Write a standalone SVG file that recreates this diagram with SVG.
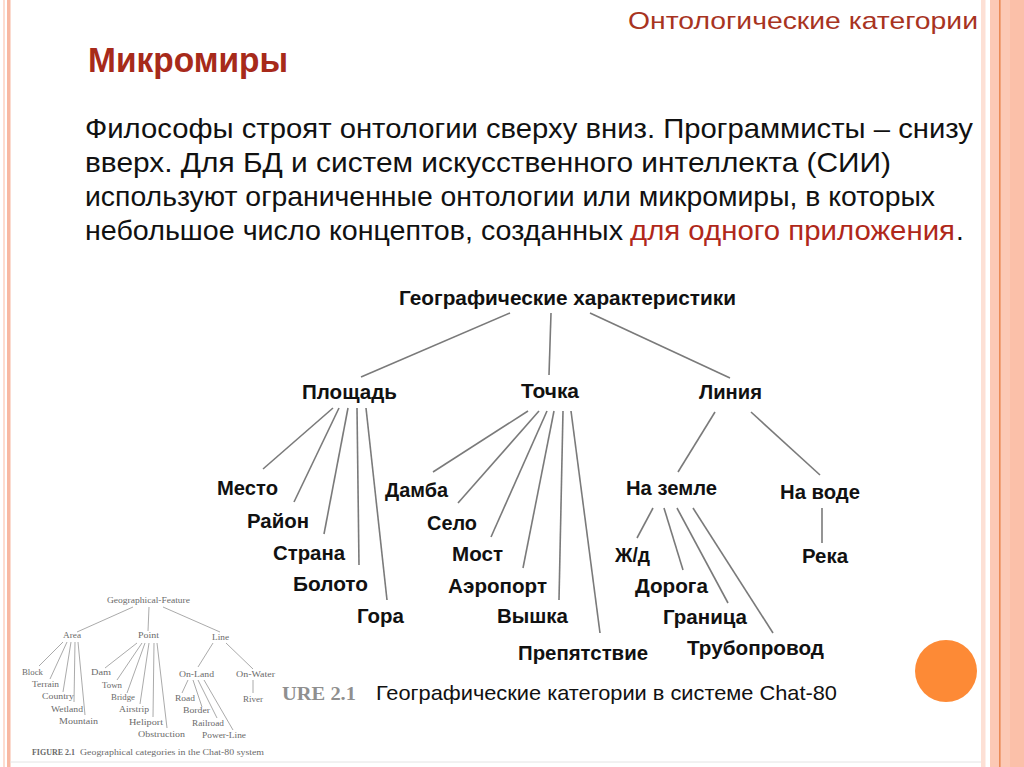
<svg xmlns="http://www.w3.org/2000/svg" width="1024" height="767" viewBox="0 0 1024 767">
<style>
.lbl{font-family:"Liberation Sans",Arial,sans-serif;font-size:20px;font-weight:bold;fill:#111}
.body{font-family:"Liberation Sans",Arial,sans-serif;font-size:28px;fill:#111}
.red{fill:#b0281a}
.sm{font-family:"Liberation Serif","Times New Roman",serif;font-size:9px;fill:#6a6a6a}
.conn line{stroke:#7a7a7a;stroke-width:1.6;fill:none}
.sconn line{stroke:#a0a0a0;stroke-width:0.9;fill:none}
</style>
<rect width="1024" height="767" fill="#ffffff"/>
<g id="border">
<rect x="3" y="0" width="2" height="767" fill="#fddcd0"/>
<rect x="7" y="0" width="3.5" height="767" fill="#f8b8a2"/>
<rect x="981" y="0" width="4.5" height="767" fill="#fde0d5"/>
<rect x="990" y="0" width="34" height="767" fill="#fcc9b5"/>
<rect x="1010" y="0" width="14" height="767" fill="#fbc0a9"/>
<rect x="999" y="0" width="1.6" height="767" fill="#ea8a55"/>
<line x1="10" y1="762" x2="981" y2="762" stroke="#e4e4e4" stroke-width="1"/>
</g>
<text x="978" y="29" text-anchor="end" font-family="Liberation Sans,Arial,sans-serif" font-size="24" fill="#a8341f" textLength="350" lengthAdjust="spacingAndGlyphs">Онтологические категории</text>
<text x="88" y="72" font-family="Liberation Sans,Arial,sans-serif" font-size="35" font-weight="bold" fill="#a72a1a" textLength="200" lengthAdjust="spacingAndGlyphs">Микромиры</text>
<g id="body-text">
<text class="body" x="85" y="138" textLength="888" lengthAdjust="spacingAndGlyphs">Философы строят онтологии сверху вниз. Программисты – снизу</text>
<text class="body" x="85" y="172" textLength="806" lengthAdjust="spacingAndGlyphs">вверх. Для БД и систем искусственного интеллекта (СИИ)</text>
<text class="body" x="85" y="206" textLength="850" lengthAdjust="spacingAndGlyphs">используют ограниченные онтологии или микромиры, в которых</text>
<text class="body" x="85" y="240" textLength="538" lengthAdjust="spacingAndGlyphs">небольшое число концептов, созданных</text>
<text class="body red" x="630" y="240" textLength="325" lengthAdjust="spacingAndGlyphs">для одного приложения</text>
<text class="body" x="956" y="240">.</text>
</g>
<g id="connectors" class="conn">
<line x1="510" y1="313" x2="361" y2="377"/>
<line x1="551" y1="313" x2="549" y2="375"/>
<line x1="590" y1="313" x2="730" y2="378"/>
<line x1="333" y1="408" x2="263" y2="469"/>
<line x1="339" y1="408" x2="294" y2="502"/>
<line x1="348" y1="408" x2="324" y2="534"/>
<line x1="357" y1="408" x2="359" y2="565"/>
<line x1="366" y1="408" x2="387" y2="600"/>
<line x1="528" y1="411" x2="433" y2="472"/>
<line x1="539" y1="411" x2="458" y2="503"/>
<line x1="547" y1="411" x2="491" y2="537"/>
<line x1="554" y1="411" x2="523" y2="568"/>
<line x1="563" y1="411" x2="559" y2="600"/>
<line x1="571" y1="411" x2="600" y2="633"/>
<line x1="715" y1="412" x2="678" y2="472"/>
<line x1="751" y1="412" x2="820" y2="475"/>
<line x1="653" y1="508" x2="637" y2="538"/>
<line x1="664" y1="508" x2="683" y2="570"/>
<line x1="677" y1="508" x2="728" y2="603"/>
<line x1="693" y1="508" x2="773" y2="633"/>
<line x1="822" y1="508" x2="822" y2="543"/>
</g>
<g id="n-root"><text class="lbl" x="399" y="305" textLength="337" lengthAdjust="spacingAndGlyphs">Географические характеристики</text></g>
<g id="n-area"><text class="lbl" x="302" y="399" textLength="95" lengthAdjust="spacingAndGlyphs">Площадь</text></g>
<g id="n-point"><text class="lbl" x="521" y="398" textLength="58" lengthAdjust="spacingAndGlyphs">Точка</text></g>
<g id="n-line"><text class="lbl" x="699" y="399" textLength="63" lengthAdjust="spacingAndGlyphs">Линия</text></g>
<g id="n-mesto"><text class="lbl" x="217" y="495" textLength="61" lengthAdjust="spacingAndGlyphs">Место</text></g>
<g id="n-raion"><text class="lbl" x="247" y="528" textLength="62" lengthAdjust="spacingAndGlyphs">Район</text></g>
<g id="n-strana"><text class="lbl" x="273" y="560" textLength="72" lengthAdjust="spacingAndGlyphs">Страна</text></g>
<g id="n-boloto"><text class="lbl" x="293" y="591" textLength="75" lengthAdjust="spacingAndGlyphs">Болото</text></g>
<g id="n-gora"><text class="lbl" x="357" y="623" textLength="47" lengthAdjust="spacingAndGlyphs">Гора</text></g>
<g id="n-damba"><text class="lbl" x="385" y="497" textLength="63" lengthAdjust="spacingAndGlyphs">Дамба</text></g>
<g id="n-selo"><text class="lbl" x="427" y="530" textLength="50" lengthAdjust="spacingAndGlyphs">Село</text></g>
<g id="n-most"><text class="lbl" x="452" y="561" textLength="51" lengthAdjust="spacingAndGlyphs">Мост</text></g>
<g id="n-airport"><text class="lbl" x="448" y="593" textLength="99" lengthAdjust="spacingAndGlyphs">Аэропорт</text></g>
<g id="n-vyshka"><text class="lbl" x="497" y="623" textLength="71" lengthAdjust="spacingAndGlyphs">Вышка</text></g>
<g id="n-obstr"><text class="lbl" x="518" y="660" textLength="130" lengthAdjust="spacingAndGlyphs">Препятствие</text></g>
<g id="n-onland"><text class="lbl" x="626" y="495" textLength="91" lengthAdjust="spacingAndGlyphs">На земле</text></g>
<g id="n-onwater"><text class="lbl" x="780" y="499" textLength="80" lengthAdjust="spacingAndGlyphs">На воде</text></g>
<g id="n-rail"><text class="lbl" x="615" y="562" textLength="35" lengthAdjust="spacingAndGlyphs">Ж/д</text></g>
<g id="n-road"><text class="lbl" x="635" y="593" textLength="73" lengthAdjust="spacingAndGlyphs">Дорога</text></g>
<g id="n-border"><text class="lbl" x="663" y="624" textLength="84" lengthAdjust="spacingAndGlyphs">Граница</text></g>
<g id="n-pipe"><text class="lbl" x="687" y="655" textLength="137" lengthAdjust="spacingAndGlyphs">Трубопровод</text></g>
<g id="n-river"><text class="lbl" x="802" y="563" textLength="46" lengthAdjust="spacingAndGlyphs">Река</text></g>
<g id="caption">
<text x="282" y="700" font-family="Liberation Serif,Times New Roman,serif" font-size="18" font-weight="bold" fill="#8f8f8f" textLength="74" lengthAdjust="spacingAndGlyphs">URE 2.1</text>
<text x="376" y="700" font-family="Liberation Sans,Arial,sans-serif" font-size="21" fill="#111" textLength="461" lengthAdjust="spacingAndGlyphs">Географические категории в системе Chat-80</text>
</g>
<g id="small-figure">
<g class="sconn">
<line x1="133" y1="607" x2="77" y2="632"/>
<line x1="149" y1="607" x2="148" y2="631"/>
<line x1="163" y1="607" x2="220" y2="632"/>
<line x1="63" y1="642" x2="39" y2="666"/>
<line x1="67" y1="642" x2="50" y2="679"/>
<line x1="71" y1="642" x2="63" y2="692"/>
<line x1="75" y1="642" x2="74" y2="702"/>
<line x1="78" y1="642" x2="85" y2="715"/>
<line x1="137" y1="643" x2="105" y2="668"/>
<line x1="142" y1="643" x2="117" y2="680"/>
<line x1="145" y1="643" x2="127" y2="693"/>
<line x1="149" y1="643" x2="140" y2="704"/>
<line x1="154" y1="643" x2="153" y2="717"/>
<line x1="157" y1="643" x2="167" y2="728"/>
<line x1="213" y1="643" x2="198" y2="667"/>
<line x1="226" y1="643" x2="253" y2="669"/>
<line x1="188" y1="680" x2="182" y2="693"/>
<line x1="193" y1="680" x2="202" y2="707"/>
<line x1="198" y1="680" x2="217" y2="718"/>
<line x1="204" y1="680" x2="233" y2="730"/>
<line x1="253" y1="680" x2="253" y2="693"/>
</g>
<text class="sm" x="107" y="603" textLength="83" lengthAdjust="spacingAndGlyphs">Geographical-Feature</text>
<text class="sm" x="63" y="638" textLength="18" lengthAdjust="spacingAndGlyphs">Area</text>
<text class="sm" x="138" y="638" textLength="21" lengthAdjust="spacingAndGlyphs">Point</text>
<text class="sm" x="212" y="640" textLength="17" lengthAdjust="spacingAndGlyphs">Line</text>
<text class="sm" x="22" y="675" textLength="21" lengthAdjust="spacingAndGlyphs">Block</text>
<text class="sm" x="32" y="687" textLength="27" lengthAdjust="spacingAndGlyphs">Terrain</text>
<text class="sm" x="42" y="699" textLength="32" lengthAdjust="spacingAndGlyphs">Country</text>
<text class="sm" x="51" y="712" textLength="32" lengthAdjust="spacingAndGlyphs">Wetland</text>
<text class="sm" x="59" y="724" textLength="39" lengthAdjust="spacingAndGlyphs">Mountain</text>
<text class="sm" x="91" y="675" textLength="20" lengthAdjust="spacingAndGlyphs">Dam</text>
<text class="sm" x="102" y="688" textLength="20" lengthAdjust="spacingAndGlyphs">Town</text>
<text class="sm" x="111" y="700" textLength="24" lengthAdjust="spacingAndGlyphs">Bridge</text>
<text class="sm" x="119" y="712" textLength="30" lengthAdjust="spacingAndGlyphs">Airstrip</text>
<text class="sm" x="129" y="725" textLength="34" lengthAdjust="spacingAndGlyphs">Heliport</text>
<text class="sm" x="138" y="737" textLength="47" lengthAdjust="spacingAndGlyphs">Obstruction</text>
<text class="sm" x="179" y="677" textLength="35" lengthAdjust="spacingAndGlyphs">On-Land</text>
<text class="sm" x="236" y="677" textLength="39" lengthAdjust="spacingAndGlyphs">On-Water</text>
<text class="sm" x="175" y="701" textLength="20" lengthAdjust="spacingAndGlyphs">Road</text>
<text class="sm" x="183" y="713" textLength="27" lengthAdjust="spacingAndGlyphs">Border</text>
<text class="sm" x="192" y="726" textLength="32" lengthAdjust="spacingAndGlyphs">Railroad</text>
<text class="sm" x="202" y="738" textLength="44" lengthAdjust="spacingAndGlyphs">Power-Line</text>
<text class="sm" x="243" y="702" textLength="20" lengthAdjust="spacingAndGlyphs">River</text>
<text class="sm" x="32" y="755" font-size="6.5" font-weight="bold" textLength="43" lengthAdjust="spacingAndGlyphs">FIGURE 2.1</text>
<text class="sm" x="80" y="755" textLength="184" lengthAdjust="spacingAndGlyphs">Geographical categories in the Chat-80 system</text>
</g>
<circle id="dot" cx="946" cy="671" r="31" fill="#fd8a36"/>
</svg>
